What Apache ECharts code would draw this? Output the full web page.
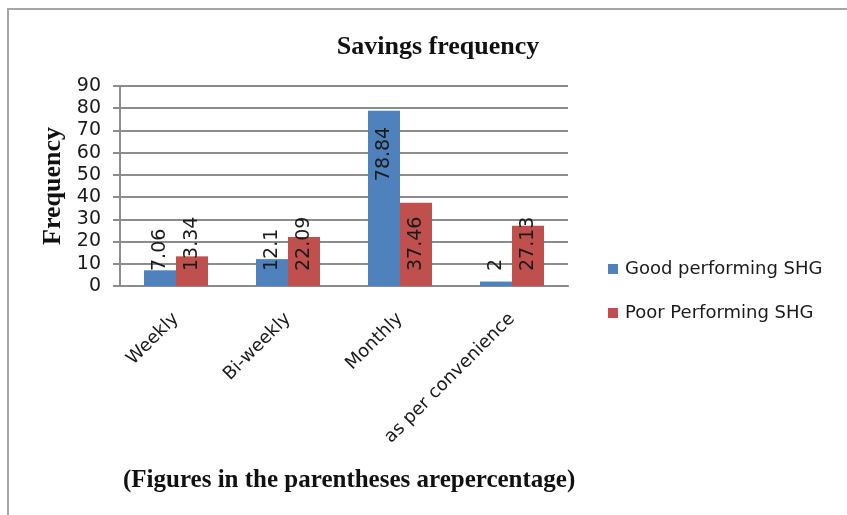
<!DOCTYPE html>
<html>
<head>
<meta charset="utf-8">
<script src="https://cdn.jsdelivr.net/npm/echarts@6/dist/echarts.min.js"></script>
<style>
  html, body { margin: 0; padding: 0; background: #fff; }
  #chart { width: 847px; height: 515px; }
</style>
</head>
<body>
<div id="chart"></div>
<script>
// Savings frequency of self-help groups
const categories = ['Weekly', 'Bi-weekly', 'Monthly', 'as per convenience'];
const goodSHG = [7.06, 12.1, 78.84, 2];
const poorSHG = [13.34, 22.09, 37.46, 27.13];
const yTicks = [0, 10, 20, 30, 40, 50, 60, 70, 80, 90];

const seriesNames = ['Good performing SHG', 'Poor Performing SHG'];
const colors = ['#4F81BD', '#C0504D'];

const labelFont = 'DejaVu Sans, Verdana, sans-serif';
const serifFont = 'Liberation Serif, Times New Roman, serif';

// Labels sit near the bar base, reading upward; tall bars keep theirs at the top
function barData(values) {
  return values.map(v => {
    if (v > 60) {
      return {
        value: v,
        label: { position: 'insideTop', align: 'right', distance: 16 }
      };
    }
    return v;
  });
}

const baseLabel = {
  show: true,
  position: 'insideBottom',
  rotate: 90,
  align: 'left',
  verticalAlign: 'middle',
  distance: 15,
  color: '#1a1a1a',
  fontFamily: labelFont,
  fontSize: 19
};

const chart = echarts.init(document.getElementById('chart'), null, { renderer: 'canvas' });

chart.setOption({
  backgroundColor: '#ffffff',
  animation: false,
  title: {
    text: 'Savings frequency',
    left: 433,
    top: 29,
    textAlign: 'center',
    textStyle: { fontFamily: serifFont, fontWeight: 'bold', fontSize: 26, color: '#111' }
  },
  graphic: [
    {
      type: 'polyline',
      shape: { points: [[8, 515], [8, 9], [847, 9]] },
      style: { stroke: '#a6a6a6', lineWidth: 2, fill: null }
    },
    {
      type: 'text',
      left: 123,
      top: 468,
      style: {
        text: '(Figures in the parentheses arepercentage)',
        fontFamily: serifFont,
        fontWeight: 'bold',
        fontSize: 25,
        fill: '#111'
      }
    }
  ],
  legend: {
    orient: 'vertical',
    left: 603,
    top: 255,
    itemGap: 26,
    itemWidth: 10,
    itemHeight: 10,
    icon: 'rect',
    data: seriesNames,
    textStyle: { fontFamily: labelFont, fontSize: 18, color: '#1a1a1a', padding: [0, 0, 0, 2] }
  },
  grid: { left: 120, right: 279, top: 86, bottom: 229, containLabel: false },
  xAxis: {
    type: 'category',
    data: categories,
    axisLine: { show: true, lineStyle: { color: '#8c8c8c', width: 2 } },
    axisTick: { show: false },
    axisLabel: {
      rotate: 45,
      margin: 30,
      interval: 0,
      fontFamily: labelFont,
      fontSize: 18,
      color: '#1a1a1a'
    }
  },
  yAxis: {
    type: 'value',
    min: yTicks[0],
    max: yTicks[yTicks.length - 1],
    interval: 10,
    name: 'Frequency',
    nameLocation: 'middle',
    nameGap: 54,
    nameRotate: 90,
    nameTextStyle: { fontFamily: serifFont, fontWeight: 'bold', fontSize: 26, color: '#111' },
    axisLine: { show: true, lineStyle: { color: '#8c8c8c', width: 2 } },
    axisTick: { show: true, length: 7, lineStyle: { color: '#8c8c8c', width: 2 } },
    splitLine: { show: true, lineStyle: { color: '#8c8c8c', width: 2 } },
    axisLabel: {
      margin: 19,
      fontFamily: labelFont,
      fontSize: 19,
      color: '#1a1a1a',
      formatter: v => (yTicks.includes(v) ? String(v) : '')
    }
  },
  series: [
    {
      name: seriesNames[0],
      type: 'bar',
      data: barData(goodSHG),
      itemStyle: { color: colors[0] },
      barWidth: 32,
      barGap: '0%',
      label: baseLabel
    },
    {
      name: seriesNames[1],
      type: 'bar',
      data: barData(poorSHG),
      itemStyle: { color: colors[1] },
      barWidth: 32,
      barGap: '0%',
      label: baseLabel
    }
  ]
});
</script>
</body>
</html>
